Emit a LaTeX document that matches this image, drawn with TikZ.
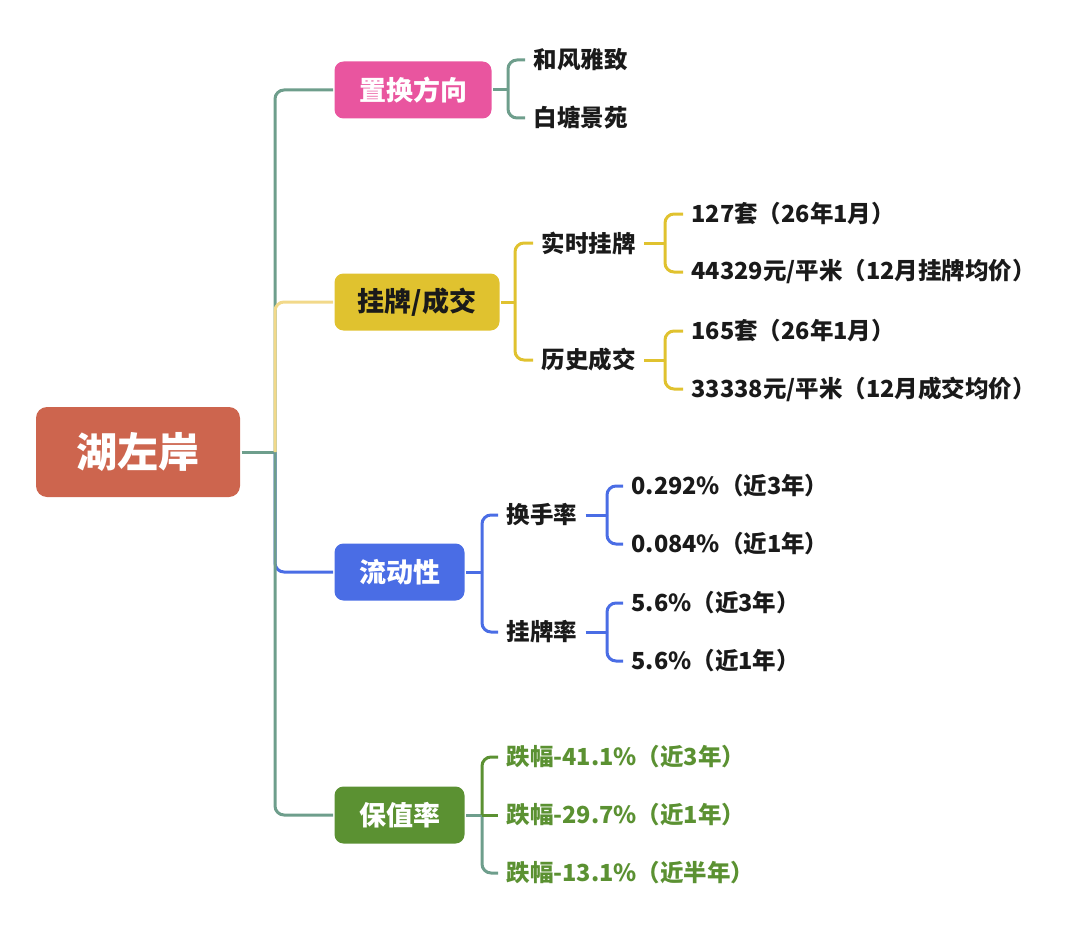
\documentclass[tikz,border=0pt]{standalone}
\usepackage{fontspec}
\setmainfont{Noto Sans CJK SC}
\usetikzlibrary{positioning}
\definecolor{rootred}{HTML}{CD654E}
\definecolor{pinkbox}{HTML}{E9559F}
\definecolor{mustard}{HTML}{E0C22F}
\definecolor{paleyellow}{HTML}{F2D98A}
\definecolor{bluebox}{HTML}{4A6DE5}
\definecolor{greenbox}{HTML}{5B9132}
\definecolor{tealline}{HTML}{6E9E8C}
\definecolor{ink}{HTML}{1A1A1A}

\begin{document}
\begin{tikzpicture}[x=1pt,y=-1pt,line width=3pt]
\tikzstyle{every node}=[font=\bfseries,inner ysep=0pt]
\tikzstyle{topic}=[rounded corners=9pt,anchor=west,minimum height=57pt,text=white,font=\bfseries\fontsize{27}{32}\selectfont]
\tikzstyle{leaf}=[anchor=west,inner xsep=7pt,text=ink,font=\bfseries\fontsize{23.5}{28}\selectfont]
\tikzstyle{fork}=[rounded corners=9pt]
\useasboundingbox (0,0) rectangle (1080,934);

% root and main topics
\node[rounded corners=11pt,fill=rootred,minimum width=204pt,minimum height=90pt,text=white,
  font=\bfseries\fontsize{41}{48}\selectfont] (lake) at (138,452) {湖左岸};
\node[topic,fill=pinkbox,minimum width=157pt] (swap) at (333,90) {置换方向};
\node[topic,fill=mustard,minimum width=165pt,text=ink] (list) at (333,302) {挂牌/成交};
\node[topic,fill=bluebox,minimum width=130pt] (flow) at (333,572) {流动性};
\node[topic,fill=greenbox,minimum width=130pt] (keep) at (333,815) {保值率};

% second level
\node[leaf] (hefeng) at (525,60) {和风雅致};
\node[leaf] (baitang) at (525,118) {白塘景苑};
\node[leaf] (live) at (533,243) {实时挂牌};
\node[leaf] (deal) at (533,360) {历史成交};
\node[leaf] (turn) at (498,515) {换手率};
\node[leaf] (lrate) at (498,632) {挂牌率};
\node[leaf,text=greenbox] (dropa) at (498,757) {跌幅-41.1\%（近3年）};
\node[leaf,text=greenbox] (dropb) at (498,815) {跌幅-29.7\%（近1年）};
\node[leaf,text=greenbox] (dropc) at (498,873) {跌幅-13.1\%（近半年）};

% third level
\node[leaf] (livea) at (683,214) {127套（26年1月）};
\node[leaf] (liveb) at (683,272) {44329元/平米（12月挂牌均价）};
\node[leaf] (deala) at (683,331) {165套（26年1月）};
\node[leaf] (dealb) at (683,389) {33338元/平米（12月成交均价）};
\node[leaf] (turna) at (623,486) {0.292\%（近3年）};
\node[leaf] (turnb) at (623,544) {0.084\%（近1年）};
\node[leaf] (lratea) at (623,603) {5.6\%（近3年）};
\node[leaf] (lrateb) at (623,661) {5.6\%（近1年）};

% trunk
\coordinate (trunk) at (275,452);
\draw[tealline] (lake.east) -- (trunk);
\draw[bluebox,fork] (trunk) |- (flow.west);
\draw[tealline,fork] (trunk) |- (swap.west);
\draw[tealline,fork] (trunk) |- (keep.west);
\draw[paleyellow,fork] (trunk) |- (list.west);

% forks
\coordinate (swapfork) at (508,90);
\draw[tealline] (swap.east) -- (swapfork);
\draw[tealline,fork] (swapfork) |- (hefeng.west);
\draw[tealline,fork] (swapfork) |- (baitang.west);

\coordinate (listfork) at (515,302);
\draw[mustard] (list.east) -- (listfork);
\draw[mustard,fork] (listfork) |- (live.west);
\draw[mustard,fork] (listfork) |- (deal.west);

\coordinate (livefork) at (665,243);
\draw[mustard] (live.east) -- (livefork);
\draw[mustard,fork] (livefork) |- (livea.west);
\draw[mustard,fork] (livefork) |- (liveb.west);

\coordinate (dealfork) at (665,360);
\draw[mustard] (deal.east) -- (dealfork);
\draw[mustard,fork] (dealfork) |- (deala.west);
\draw[mustard,fork] (dealfork) |- (dealb.west);

\coordinate (flowfork) at (482,572);
\draw[bluebox] (flow.east) -- (flowfork);
\draw[bluebox,fork] (flowfork) |- (turn.west);
\draw[bluebox,fork] (flowfork) |- (lrate.west);

\coordinate (turnfork) at (607,515);
\draw[bluebox] (turn.east) -- (turnfork);
\draw[bluebox,fork] (turnfork) |- (turna.west);
\draw[bluebox,fork] (turnfork) |- (turnb.west);

\coordinate (lratefork) at (607,632);
\draw[bluebox] (lrate.east) -- (lratefork);
\draw[bluebox,fork] (lratefork) |- (lratea.west);
\draw[bluebox,fork] (lratefork) |- (lrateb.west);

\coordinate (keepfork) at (482,815);
\draw[tealline] (keep.east) -- (keepfork);
\draw[tealline,fork] (keepfork) |- (dropc.west);
\draw[greenbox,fork] (keepfork) |- (dropa.west);
\draw[greenbox] (keepfork) -- (dropb.west);
\end{tikzpicture}
\end{document}
